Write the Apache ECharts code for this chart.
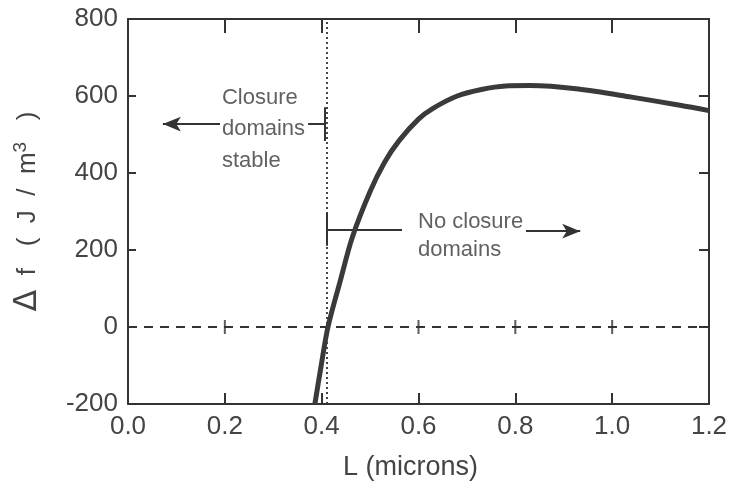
<!DOCTYPE html>
<html>
<head>
<meta charset="utf-8">
<script src="https://cdn.jsdelivr.net/npm/echarts@6/dist/echarts.min.js"></script>
<style>html,body{margin:0;padding:0;background:#fff}#c{width:734px;height:486px}</style>
</head>
<body>
<div id="c"></div>
<script>
// ---- data ----
const curveL = [0.386, 0.399, 0.413, 0.438, 0.463, 0.50, 0.53, 0.56, 0.60, 0.63, 0.68, 0.73, 0.78, 0.83, 0.93, 1.04, 1.14, 1.2];
const curveF = [-200, -100, 0, 118, 232, 352, 428, 484, 540, 568, 600, 617, 626, 627, 618, 597, 576, 562];
const xTicks = [0.0, 0.2, 0.4, 0.6, 0.8, 1.0, 1.2];
const yTicks = [-200, 0, 200, 400, 600, 800];
const zeroCrossL = [0.2, 0.6, 0.8, 1.0];
const criticalL = 0.41;

const annoTexts = ['Closure', 'domains', 'stable', 'No closure', 'domains'];
const annoL = [0.194, 0.194, 0.194, 0.599, 0.599];
const annoF = [594, 514, 432, 272, 200];

// annotation segments [L1,F1,L2,F2,arrowAtEnd]
const annoSegs = [
  [0.190, 527, 0.072, 527, true],
  [0.372, 527, 0.407, 527, false],
  [0.407, 571, 0.407, 483, false],
  [0.411, 296, 0.411, 211, false],
  [0.411, 252, 0.566, 252, false],
  [0.822, 249, 0.934, 249, true]
];

const ink = '#333';
const txt = '#444';
const chart = echarts.init(document.getElementById('c'), null, {renderer: 'canvas'});

const fmtX = v => v.toFixed(1);

chart.setOption({
  backgroundColor: '#fff',
  animation: false,
  grid: {left: 128, right: 25, top: 19, bottom: 81, containLabel: false},
  xAxis: [{
    type: 'value', min: 0, max: 1.2, interval: 0.2, position: 'bottom',
    axisLine: {show: true, onZero: false, lineStyle: {color: ink, width: 2}},
    axisTick: {show: true, inside: true, length: 11, lineStyle: {color: ink, width: 2}},
    axisLabel: {formatter: fmtX, color: txt, fontSize: 26, fontFamily: 'Liberation Sans', margin: 10},
    splitLine: {show: false},
    name: 'L (microns)', nameLocation: 'middle', nameGap: 50,
    nameTextStyle: {color: txt, fontSize: 27, fontFamily: 'Liberation Sans', padding: [0, 16, 0, 0]}
  }, {
    type: 'value', min: 0, max: 1.2, interval: 0.2, position: 'top',
    axisLine: {show: true, onZero: false, lineStyle: {color: ink, width: 2}},
    axisTick: {show: true, inside: true, length: 14, lineStyle: {color: ink, width: 2}},
    axisLabel: {show: false}, splitLine: {show: false}
  }],
  yAxis: [{
    type: 'value', min: -200, max: 800, interval: 200, position: 'left',
    axisLine: {show: true, onZero: false, lineStyle: {color: ink, width: 2}},
    axisTick: {show: true, inside: true, length: 8, lineStyle: {color: ink, width: 2}},
    axisLabel: {color: txt, fontSize: 26, fontFamily: 'Liberation Sans', margin: 10},
    splitLine: {show: false},
    name: '{d|Δ}{a|  f   (  J  /  m}{s|3}{a|   )}', nameLocation: 'middle', nameGap: 84, nameRotate: 90,
    nameTextStyle: {rich: {
      d: {color: txt, fontSize: 32, fontFamily: 'DejaVu Sans'},
      a: {color: txt, fontSize: 26, fontFamily: 'Liberation Sans'},
      s: {color: txt, fontSize: 19, fontFamily: 'Liberation Sans', verticalAlign: 'top', padding: [0, 0, 14, 0]}
    }}
  }, {
    type: 'value', min: -200, max: 800, interval: 200, position: 'right',
    axisLine: {show: true, onZero: false, lineStyle: {color: ink, width: 2}},
    axisTick: {show: true, inside: true, length: 10, lineStyle: {color: ink, width: 2}},
    axisLabel: {show: false}, splitLine: {show: false}
  }],
  series: [{
    name: 'zero', type: 'scatter', xAxisIndex: 0, yAxisIndex: 0,
    data: zeroCrossL.map(l => [l, 0]),
    symbol: 'rect', symbolSize: [2, 14],
    itemStyle: {color: ink}, silent: true, z: 3,
    markLine: {
      silent: true, symbol: ['none', 'none'], label: {show: false},
      data: [
        {yAxis: 0, lineStyle: {color: ink, width: 1.8, type: [9, 7]}},
        {xAxis: criticalL, lineStyle: {color: ink, width: 1.8, type: [2, 3]}}
      ]
    }
  }, {
    name: 'annotations', type: 'scatter', xAxisIndex: 0, yAxisIndex: 0,
    data: annoTexts.map((t, i) => ({value: [annoL[i], annoF[i]], name: t})),
    symbolSize: 0, silent: true, z: 4,
    label: {
      show: true, position: 'right', distance: 0, formatter: p => p.name,
      color: '#383838', fontSize: 22, fontFamily: 'Liberation Sans', align: 'left', verticalAlign: 'middle'
    },
    markLine: {
      silent: true, label: {show: false},
      lineStyle: {color: ink, width: 2, type: 'solid'},
      data: annoSegs.map(s => [
        {coord: [s[0], s[1]], symbol: 'none'},
        {coord: [s[2], s[3]], symbol: s[4] ? 'arrow' : 'none', symbolSize: [11, 18]}
      ])
    }
  }, {
    name: 'Δf', type: 'line', xAxisIndex: 0, yAxisIndex: 0,
    data: curveL.map((l, i) => [l, curveF[i]]),
    smooth: 0.3, showSymbol: false, z: 5,
    lineStyle: {color: '#3a3a3a', width: 5}
  }]
});
</script>
</body>
</html>
